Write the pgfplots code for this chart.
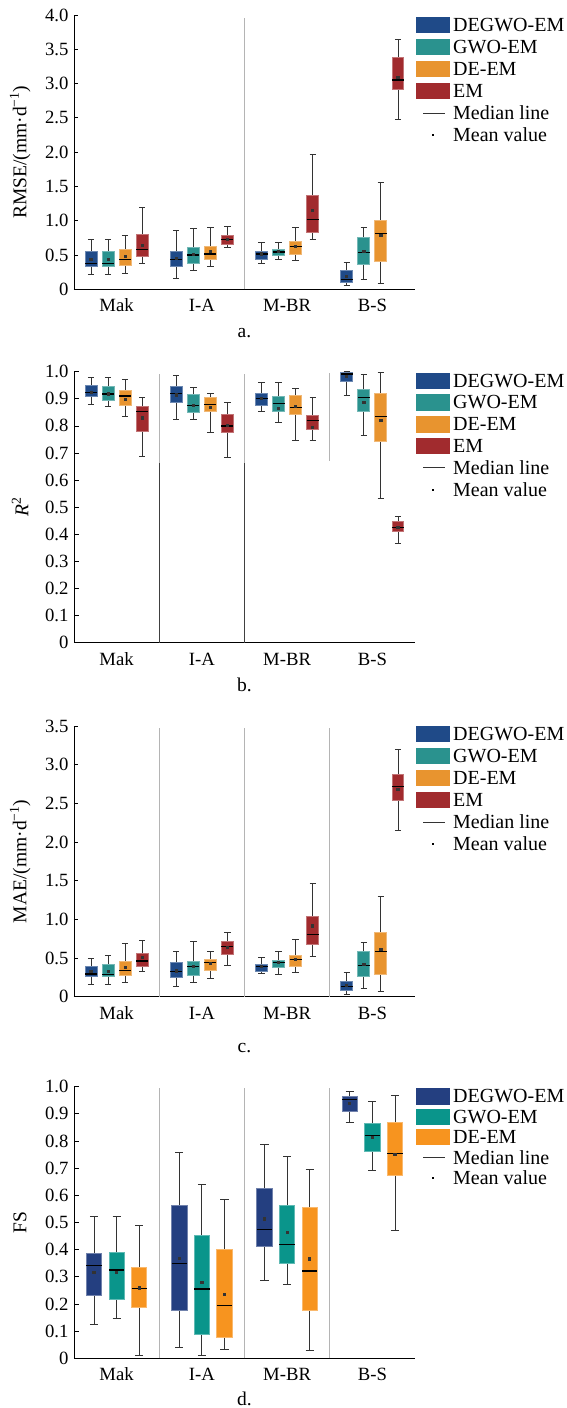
\documentclass[border=0pt]{standalone}
\usepackage{fontspec}
\setmainfont{Liberation Serif}
\usepackage{pgfplots}
\pgfplotsset{compat=1.18}
\usepgfplotslibrary{statistics}

\definecolor{cA}{HTML}{1F4A88}
\definecolor{cB}{HTML}{2A928E}
\definecolor{cC}{HTML}{E8942F}
\definecolor{cD}{HTML}{A12B2E}
\definecolor{dA}{HTML}{243F80}
\definecolor{dB}{HTML}{0A958B}
\definecolor{dC}{HTML}{F7941F}
\definecolor{sepgray}{HTML}{B4B4B4}

\pgfplotsset{
  panel/.style={
    scale only axis, width=341pt, xmin=0.5, xmax=4.5, ymin=0,
    anchor=south west, clip=false,
    axis x line*=bottom, axis y line*=left,
    axis line style={-, line width=0.8pt, black},
    xtick={1,2,3,4}, xticklabels={Mak,I-A,M-BR,B-S},
    major x tick style={draw=none},
    major tick length=4.5pt, tick align=inside,
    ytick style={line width=0.8pt, black},
    /pgf/number format/assume math mode=true,
    tick label style={font=\fontsize{18.7}{20}\selectfont},
    xticklabel style={anchor=base, yshift=-22.4pt},
    yticklabel style={anchor=east, xshift=-2pt},
    label style={font=\fontsize{19.5}{21}\selectfont},
    ylabel style={at={(axis description cs:-0.158,0.5)}, anchor=center},
    xlabel style={at={(axis description cs:0.5,0)}, anchor=base, yshift=-48.5pt},
  },
  bxabc/.style={black!80, line width=0.9pt, mark=square*, mark size=1.1pt,
    boxplot/draw direction=y,
    boxplot/box extend=0.14, boxplot/whisker extend=0.075,
    boxplot/every median/.style={black, line width=1.3pt},
    boxplot/every average/.style={black, line width=0.1pt}},
  bxd/.style={bxabc, boxplot/box extend=0.18, boxplot/whisker extend=0.095},
}

% style, colour, position, lower whisker, lower quartile, median, upper quartile, upper whisker, mean
\newcommand{\bx}[9]{\addplot[#1, boxplot/every box/.style={fill=#2, draw=#2!65!white},
  boxplot prepared={draw direction=y, draw position=#3, lower whisker=#4, lower quartile=#5, median=#6,
  upper quartile=#7, upper whisker=#8, average=#9}] coordinates {};}

% first row centre y, row spacing, colour/label list
\newcommand{\drawlegend}[3]{%
  \foreach \c/\t [count=\i from 0] in {#3} {
    \fill[\c] (416pt,{#1pt-#2pt*\i-8.2pt}) rectangle (450pt,{#1pt-#2pt*\i+8.2pt});
    \node[anchor=west, inner sep=0pt, font=\fontsize{20}{22}\selectfont] at (453pt,{#1pt-#2pt*\i}) {\t};
    \xdef\nrows{\i}
  }
  \pgfmathsetmacro\ymed{#1-#2*(\nrows+1)}
  \pgfmathsetmacro\ymean{#1-#2*(\nrows+2)}
  \draw[black!80, line width=1pt] (423pt,\ymed pt) -- (445pt,\ymed pt);
  \node[anchor=west, inner sep=0pt, font=\fontsize{20}{22}\selectfont] at (453pt,\ymed pt) {Median line};
  \fill[black] (431.6pt,\ymean pt-1.1pt) rectangle (433.8pt,\ymean pt+1.1pt);
  \node[anchor=west, inner sep=0pt, font=\fontsize{20}{22}\selectfont] at (453pt,\ymean pt) {Mean value};
}

\begin{document}
\begin{tikzpicture}
\path[use as bounding box] (0,0) rectangle (566pt,-1408pt);

% ---------------- a. RMSE
\begin{axis}[panel, at={(74pt,-289.3pt)}, height=274.3pt, ymax=4,
  ytick={0,0.5,1,1.5,2,2.5,3,3.5,4},
  yticklabels={0,0.5,1.0,1.5,2.0,2.5,3.0,3.5,4.0},
  ylabel={RMSE/(mm·d\textsuperscript{−1})}, xlabel={a.}]
\draw[sepgray, line width=1.1pt] (axis cs:2.5,0) -- (axis cs:2.5,3.96);
\bx{bxabc}{cA}{0.7}{0.21}{0.33}{0.38}{0.55}{0.73}{0.43}
\bx{bxabc}{cB}{0.9}{0.21}{0.33}{0.38}{0.55}{0.73}{0.44}
\bx{bxabc}{cC}{1.1}{0.23}{0.355}{0.43}{0.58}{0.78}{0.48}
\bx{bxabc}{cD}{1.3}{0.38}{0.48}{0.58}{0.80}{1.20}{0.64}
\bx{bxabc}{cA}{1.7}{0.155}{0.33}{0.43}{0.55}{0.86}{0.45}
\bx{bxabc}{cB}{1.9}{0.28}{0.38}{0.50}{0.61}{0.89}{0.51}
\bx{bxabc}{cC}{2.1}{0.33}{0.43}{0.515}{0.62}{0.90}{0.55}
\bx{bxabc}{cD}{2.3}{0.61}{0.66}{0.73}{0.78}{0.92}{0.73}
\bx{bxabc}{cA}{2.7}{0.38}{0.44}{0.515}{0.55}{0.69}{0.515}
\bx{bxabc}{cB}{2.9}{0.44}{0.49}{0.545}{0.58}{0.68}{0.55}
\bx{bxabc}{cC}{3.1}{0.42}{0.515}{0.62}{0.70}{0.90}{0.62}
\bx{bxabc}{cD}{3.3}{0.73}{0.83}{1.02}{1.375}{1.97}{1.15}
\bx{bxabc}{cA}{3.7}{0.05}{0.097}{0.146}{0.28}{0.39}{0.185}
\bx{bxabc}{cB}{3.9}{0.146}{0.365}{0.54}{0.76}{0.90}{0.555}
\bx{bxabc}{cC}{4.1}{0.087}{0.41}{0.816}{1.00}{1.565}{0.78}
\bx{bxabc}{cD}{4.3}{2.47}{2.92}{3.05}{3.38}{3.64}{3.09}
\end{axis}
\drawlegend{-25}{22}{cA/DEGWO-EM, cB/GWO-EM, cC/DE-EM, cD/EM}

% ---------------- b. R2
\begin{axis}[panel, at={(74pt,-642.7pt)}, height=271pt, ymax=1,
  ytick={0,0.1,0.2,0.3,0.4,0.5,0.6,0.7,0.8,0.9,1},
  yticklabels={0,0.1,0.2,0.3,0.4,0.5,0.6,0.7,0.8,0.9,1.0},
  ylabel={\textit{R}\textsuperscript{2}}, xlabel={b.}]
\draw[sepgray, line width=1.1pt] (axis cs:1.5,0.664) -- (axis cs:1.5,0.99);
\draw[sepgray, line width=1.1pt] (axis cs:2.5,0.664) -- (axis cs:2.5,0.99);
\draw[sepgray, line width=1.1pt] (axis cs:3.5,0.672) -- (axis cs:3.5,0.994);
\draw[black!75, line width=0.6pt] (axis cs:1.5,0) -- (axis cs:1.5,0.664);
\draw[black!75, line width=0.6pt] (axis cs:2.5,0) -- (axis cs:2.5,0.664);
\bx{bxabc}{cA}{0.7}{0.879}{0.908}{0.924}{0.951}{0.979}{0.924}
\bx{bxabc}{cB}{0.9}{0.873}{0.893}{0.918}{0.947}{0.978}{0.918}
\bx{bxabc}{cC}{1.1}{0.834}{0.877}{0.910}{0.93}{0.972}{0.899}
\bx{bxabc}{cD}{1.3}{0.686}{0.779}{0.852}{0.871}{0.904}{0.829}
\bx{bxabc}{cA}{1.7}{0.825}{0.887}{0.92}{0.945}{0.985}{0.914}
\bx{bxabc}{cB}{1.9}{0.822}{0.849}{0.876}{0.916}{0.941}{0.876}
\bx{bxabc}{cC}{2.1}{0.775}{0.852}{0.879}{0.905}{0.92}{0.867}
\bx{bxabc}{cD}{2.3}{0.684}{0.775}{0.80}{0.844}{0.886}{0.802}
\bx{bxabc}{cA}{2.7}{0.855}{0.877}{0.902}{0.92}{0.959}{0.902}
\bx{bxabc}{cB}{2.9}{0.812}{0.852}{0.883}{0.910}{0.959}{0.865}
\bx{bxabc}{cC}{3.1}{0.745}{0.844}{0.868}{0.914}{0.938}{0.873}
\bx{bxabc}{cD}{3.3}{0.748}{0.787}{0.820}{0.84}{0.904}{0.795}
\bx{bxabc}{cA}{3.7}{0.914}{0.963}{0.991}{0.996}{1.0}{0.982}
\bx{bxabc}{cB}{3.9}{0.764}{0.852}{0.905}{0.935}{0.99}{0.886}
\bx{bxabc}{cC}{4.1}{0.533}{0.742}{0.836}{0.92}{0.998}{0.82}
\bx{bxabc}{cD}{4.3}{0.367}{0.41}{0.426}{0.446}{0.465}{0.426}
\end{axis}
\drawlegend{-380.7}{21.8}{cA/DEGWO-EM, cB/GWO-EM, cC/DE-EM, cD/EM}

% ---------------- c. MAE
\begin{axis}[panel, at={(74pt,-996.7pt)}, height=270.7pt, ymax=3.5,
  ytick={0,0.5,1,1.5,2,2.5,3,3.5},
  yticklabels={0,0.5,1.0,1.5,2.0,2.5,3.0,3.5},
  ylabel={MAE/(mm·d\textsuperscript{−1})}, xlabel={c.},
  xlabel style={yshift=-7.5pt}]
\draw[sepgray, line width=1.1pt] (axis cs:1.5,0) -- (axis cs:1.5,3.48);
\draw[sepgray, line width=1.1pt] (axis cs:2.5,0) -- (axis cs:2.5,3.48);
\draw[sepgray, line width=1.1pt] (axis cs:3.5,0) -- (axis cs:3.5,3.48);
\bx{bxabc}{cA}{0.7}{0.164}{0.259}{0.293}{0.388}{0.496}{0.323}
\bx{bxabc}{cB}{0.9}{0.164}{0.259}{0.289}{0.418}{0.539}{0.33}
\bx{bxabc}{cC}{1.1}{0.185}{0.28}{0.336}{0.453}{0.69}{0.375}
\bx{bxabc}{cD}{1.3}{0.332}{0.397}{0.461}{0.56}{0.733}{0.504}
\bx{bxabc}{cA}{1.7}{0.129}{0.246}{0.323}{0.44}{0.59}{0.332}
\bx{bxabc}{cB}{1.9}{0.181}{0.28}{0.388}{0.453}{0.711}{0.388}
\bx{bxabc}{cC}{2.1}{0.233}{0.345}{0.44}{0.483}{0.59}{0.431}
\bx{bxabc}{cD}{2.3}{0.40}{0.552}{0.647}{0.711}{0.828}{0.638}
\bx{bxabc}{cA}{2.7}{0.30}{0.332}{0.388}{0.418}{0.504}{0.388}
\bx{bxabc}{cB}{2.9}{0.293}{0.375}{0.44}{0.474}{0.582}{0.44}
\bx{bxabc}{cC}{3.1}{0.315}{0.388}{0.483}{0.539}{0.741}{0.483}
\bx{bxabc}{cD}{3.3}{0.526}{0.677}{0.806}{1.043}{1.466}{0.914}
\bx{bxabc}{cA}{3.7}{0.034}{0.086}{0.129}{0.203}{0.31}{0.142}
\bx{bxabc}{cB}{3.9}{0.108}{0.267}{0.40}{0.582}{0.698}{0.418}
\bx{bxabc}{cC}{4.1}{0.073}{0.293}{0.582}{0.828}{1.293}{0.612}
\bx{bxabc}{cD}{4.3}{2.147}{2.534}{2.716}{2.879}{3.198}{2.681}
\end{axis}
\drawlegend{-734}{22}{cA/DEGWO-EM, cB/GWO-EM, cC/DE-EM, cD/EM}

% ---------------- d. FS
\begin{axis}[panel, at={(74pt,-1358.3pt)}, height=271.6pt, ymax=1,
  ytick={0,0.1,0.2,0.3,0.4,0.5,0.6,0.7,0.8,0.9,1},
  yticklabels={0,0.1,0.2,0.3,0.4,0.5,0.6,0.7,0.8,0.9,1.0},
  ylabel={FS}, xlabel={d.}, xlabel style={yshift=1.8pt}]
\draw[sepgray, line width=1.1pt] (axis cs:1.5,0) -- (axis cs:1.5,0.994);
\draw[sepgray, line width=1.1pt] (axis cs:2.5,0) -- (axis cs:2.5,0.994);
\draw[sepgray, line width=1.1pt] (axis cs:3.5,0) -- (axis cs:3.5,0.994);
\bx{bxd}{dA}{0.735}{0.125}{0.233}{0.341}{0.385}{0.524}{0.317}
\bx{bxd}{dB}{1.0}{0.145}{0.215}{0.325}{0.389}{0.524}{0.317}
\bx{bxd}{dC}{1.265}{0.011}{0.188}{0.256}{0.335}{0.488}{0.259}
\bx{bxd}{dA}{1.735}{0.039}{0.175}{0.348}{0.563}{0.757}{0.368}
\bx{bxd}{dB}{2.0}{0.011}{0.088}{0.255}{0.453}{0.639}{0.279}
\bx{bxd}{dC}{2.265}{0.031}{0.077}{0.195}{0.401}{0.585}{0.236}
\bx{bxd}{dA}{2.735}{0.287}{0.411}{0.474}{0.626}{0.788}{0.513}
\bx{bxd}{dB}{3.0}{0.271}{0.348}{0.42}{0.561}{0.744}{0.463}
\bx{bxd}{dC}{3.265}{0.029}{0.175}{0.321}{0.556}{0.697}{0.366}
\bx{bxd}{dA}{3.735}{0.867}{0.908}{0.953}{0.963}{0.984}{0.937}
\bx{bxd}{dB}{4.0}{0.69}{0.761}{0.82}{0.865}{0.947}{0.812}
\bx{bxd}{dC}{4.265}{0.471}{0.675}{0.753}{0.869}{0.969}{0.751}
\end{axis}
\drawlegend{-1096.3}{20.4}{dA/DEGWO-EM, dB/GWO-EM, dC/DE-EM}

\end{tikzpicture}
\end{document}
